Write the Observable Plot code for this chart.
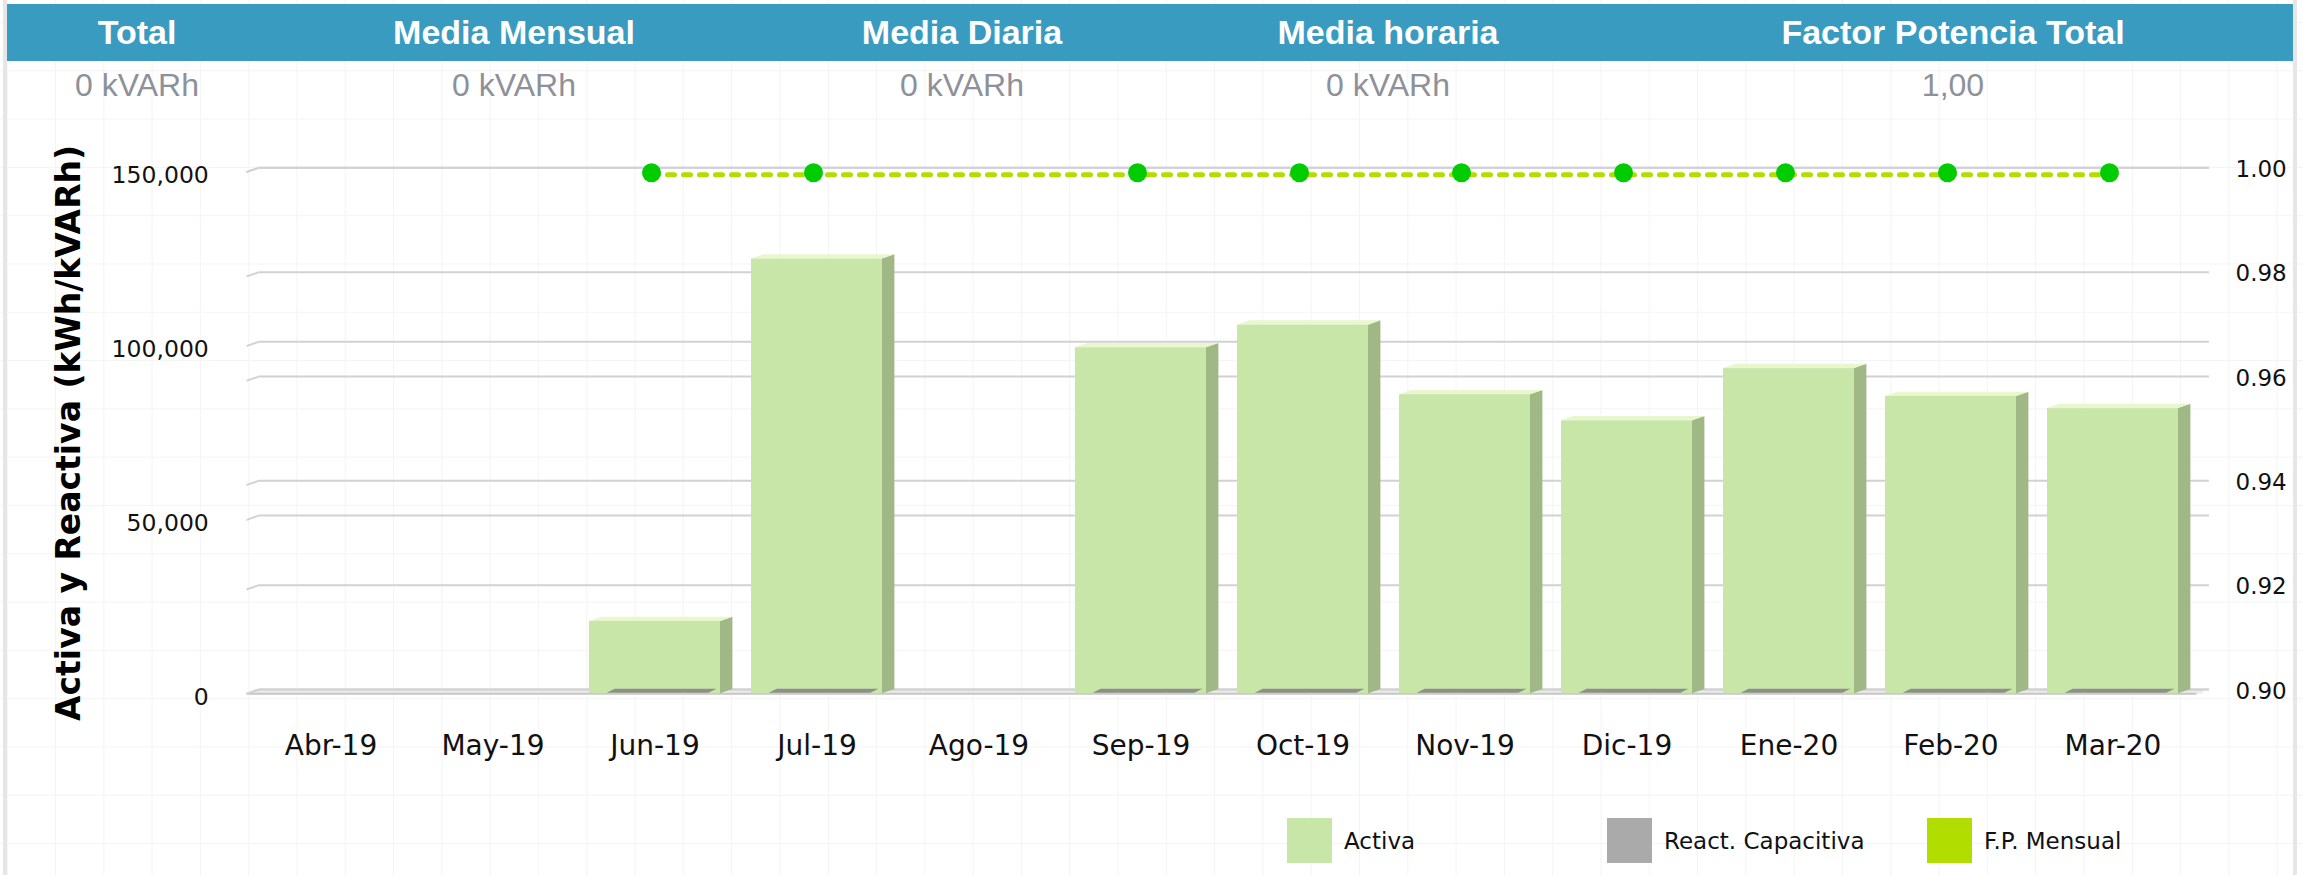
<!DOCTYPE html>
<html>
<head>
<meta charset="utf-8">
<script src="https://cdn.jsdelivr.net/npm/d3@7"></script>
<script src="https://cdn.jsdelivr.net/npm/@observablehq/plot@0.6"></script>
<style>
  html, body { margin: 0; padding: 0; }
  body {
    width: 2303px; height: 875px; overflow: hidden; position: relative;
    background-color: #ffffff;
    background-image: linear-gradient(#f4f4f4 1px, transparent 1px), linear-gradient(90deg, #f4f4f4 1px, transparent 1px);
    background-size: 48.3px 48.3px;
    background-position: 6.7px 22px;
  }
  #frameL, #frameR { position: absolute; top: 0; width: 4px; height: 875px; background: #e6e6e6; }
  #frameL { left: 3px; } #frameR { left: 2293px; }
  #bar { position: absolute; left: 7px; top: 4px; width: 2286px; height: 57px; background: #3a9bc1; }
  .ht { position: absolute; font-family: "Liberation Sans", Arial, sans-serif; font-weight: bold; font-size: 34px; line-height: 34px; color: #fff; transform: translateX(-50%); white-space: nowrap; top: 15.4px; }
  .hv { position: absolute; font-family: "Liberation Sans", Arial, sans-serif; font-size: 32px; line-height: 32px; color: #8d9199; transform: translateX(-50%); white-space: nowrap; top: 69.4px; }
  #chart { position: absolute; left: 0; top: 110px; }
  .sw { position: absolute; top: 818px; width: 45px; height: 45px; }
  .lt { position: absolute; top: 830.2px; font-family: "DejaVu Sans", Verdana, sans-serif; font-size: 23px; line-height: 23px; color: #111; white-space: nowrap; }
  g[aria-description="side"] rect { transform-box: fill-box; transform-origin: 0 100%; transform: skewY(-19.12deg); }
  g[aria-description="top"] rect { transform-box: fill-box; transform-origin: 0 100%; transform: skewX(-70.87deg); }
  g[aria-description="slab"] rect { transform-box: fill-box; transform-origin: 0 100%; transform: skewX(-63.43deg); }
  g[aria-description="stub"] line { transform-box: fill-box; transform-origin: 0 0; transform: skewY(-19.12deg); }
</style>
</head>
<body>
<div id="frameL"></div><div id="frameR"></div>
<div id="bar"></div>
<div id="header"></div>
<div id="chart"></div>
<div id="legend"></div>
<script>
// ---- data ----
const headerTitles = ["Total", "Media Mensual", "Media Diaria", "Media horaria", "Factor Potencia Total"];
const headerValues = ["0 kVARh", "0 kVARh", "0 kVARh", "0 kVARh", "1,00"];
const months = ["Abr-19","May-19","Jun-19","Jul-19","Ago-19","Sep-19","Oct-19","Nov-19","Dic-19","Ene-20","Feb-20","Mar-20"];
const activa = [null, null, 20800, 125000, null, 99500, 106000, 86000, 78500, 93500, 85500, 82000];
const reactCapacitiva = [null, null, 0, 0, null, 0, 0, 0, 0, 0, 0, 0];
const fpMensual = [null, null, 1.00, 1.00, null, 1.00, 1.00, 1.00, 1.00, 1.00, 1.00, 1.00];
const leftTicks = [0, 50000, 100000, 150000];
const rightTicks = [0.90, 0.92, 0.94, 0.96, 0.98, 1.00];
const leftDomain = [0, 150000];
const rightDomain = [0.90, 1.00];
const yTitle = "Activa y Reactiva (kWh/kVARh)";
const legendLabels = ["Activa", "React. Capacitiva", "F.P. Mensual"];
const legendColors = ["#c8e6a8", "#aaaaaa", "#b2dd00"];

// ---- header ----
const headerX = [137, 514, 962, 1388, 1953];
const header = document.getElementById("header");
headerTitles.forEach((t, i) => {
  const d = document.createElement("div"); d.className = "ht"; d.style.left = headerX[i] + "px"; d.textContent = t; header.appendChild(d);
  const v = document.createElement("div"); v.className = "hv"; v.style.left = headerX[i] + "px"; v.textContent = headerValues[i]; header.appendChild(v);
});

// ---- legend ----
const legend = document.getElementById("legend");
const swX = [1287, 1607, 1927];
legendLabels.forEach((l, i) => {
  const s = document.createElement("div"); s.className = "sw"; s.style.left = swX[i] + "px"; s.style.background = legendColors[i]; legend.appendChild(s);
  const t = document.createElement("div"); t.className = "lt"; t.style.left = (swX[i] + 57) + "px"; t.textContent = l; legend.appendChild(t);
});

// ---- chart ----
const toLeft = v => leftDomain[0] + (v - rightDomain[0]) / (rightDomain[1] - rightDomain[0]) * (leftDomain[1] - leftDomain[0]);
const fromLeft = v => rightDomain[0] + (v - leftDomain[0]) / (leftDomain[1] - leftDomain[0]) * (rightDomain[1] - rightDomain[0]);

const rows = months.map((m, i) => ({month: m, activa: activa[i], react: reactCapacitiva[i], fp: fpMensual[i]}));
const barRows = rows.filter(d => d.activa != null);
const reactRows = rows.filter(d => d.react != null);
const fpRows = rows.filter(d => d.fp != null);

const W = 2303, H = 690;
const mL = 246.5, mR = 106.5, mT = 61.6, mB = 106.7;
const frameW = W - mL - mR;
const bw = 131, depthX = 12.4, depthY = 4.3;
const gridTicks = [...leftTicks, ...rightTicks.map(toLeft)];
const gridColor = "#d2d2d2";

const chart = Plot.plot({
  width: W, height: H,
  marginLeft: mL, marginRight: mR, marginTop: mT, marginBottom: mB,
  style: {background: "transparent", fontFamily: "DejaVu Sans, Verdana, sans-serif", overflow: "visible", color: "#111"},
  x: {type: "band", domain: months, paddingInner: 0.194, paddingOuter: 0.097, label: null},
  y: {domain: leftDomain, label: null},
  marks: [
    // floor
    Plot.ruleY([0], {stroke: "#ececec", strokeWidth: depthY, dy: -depthY / 2, dx: depthX / 2}),
    Plot.ruleY([0], {stroke: "#c6c6c6", strokeWidth: 2}),
    // back-wall gridlines (both axes)
    Plot.ruleY(gridTicks, {stroke: gridColor, strokeWidth: 2, dx: depthX, dy: -depthY}),
    Plot.ruleY(gridTicks, {stroke: gridColor, strokeWidth: 2, insetRight: frameW - depthX, ariaDescription: "stub"}),
    // Activa 3D columns
    Plot.barY(barRows, {x: "month", y: "activa", fill: "#a0b886", insetLeft: bw - depthX, dx: depthX, ariaDescription: "side"}),
    Plot.barY(barRows, {x: "month", y1: "activa", y2: "activa", insetTop: -depthY, fill: "#e8f7cc", ariaDescription: "top"}),
    Plot.barY(barRows, {x: "month", y: "activa", fill: "#c8e6a8"}),
    // React. Capacitiva (zero) slabs
    Plot.barY(reactRows, {x: "month", y1: "react", y2: "react", insetTop: -4, insetLeft: 17.7, insetRight: 11.6, dy: -0.6, fill: "#8e8e8e", ariaDescription: "slab"}),
    // F.P. Mensual
    Plot.line(fpRows, {x: "month", y: d => toLeft(d.fp), stroke: "#b4dc00", strokeWidth: 5, strokeDasharray: "7,9", dx: -3.5, dy: 2.7}),
    Plot.dot(fpRows, {x: "month", y: d => toLeft(d.fp), r: 9.5, fill: "#00cc00", stroke: "none", dx: -3.5, dy: 0.7}),
    // axes
    Plot.axisX({tickSize: 0, tickPadding: 41, fontSize: 28, label: null, fill: "#111"}),
    Plot.axisY({anchor: "left", ticks: leftTicks, tickFormat: d3.format(","), tickSize: 0, tickPadding: 38.2, fontSize: 23.5, dy: 3.5, label: null, fill: "#111"}),
    Plot.axisY({anchor: "right", ticks: rightTicks.map(toLeft), tickFormat: v => fromLeft(v).toFixed(2), tickSize: 0, tickPadding: 38.5, fontSize: 23, dy: -2.5, label: null, fill: "#111"}),
    // y title
    Plot.text([yTitle], {frameAnchor: "left", textAnchor: "middle", rotate: -90, dx: -177.5, fontSize: 33, fontWeight: "bold", fill: "#000"})
  ]
});
document.getElementById("chart").appendChild(chart);
</script>
</body>
</html>
